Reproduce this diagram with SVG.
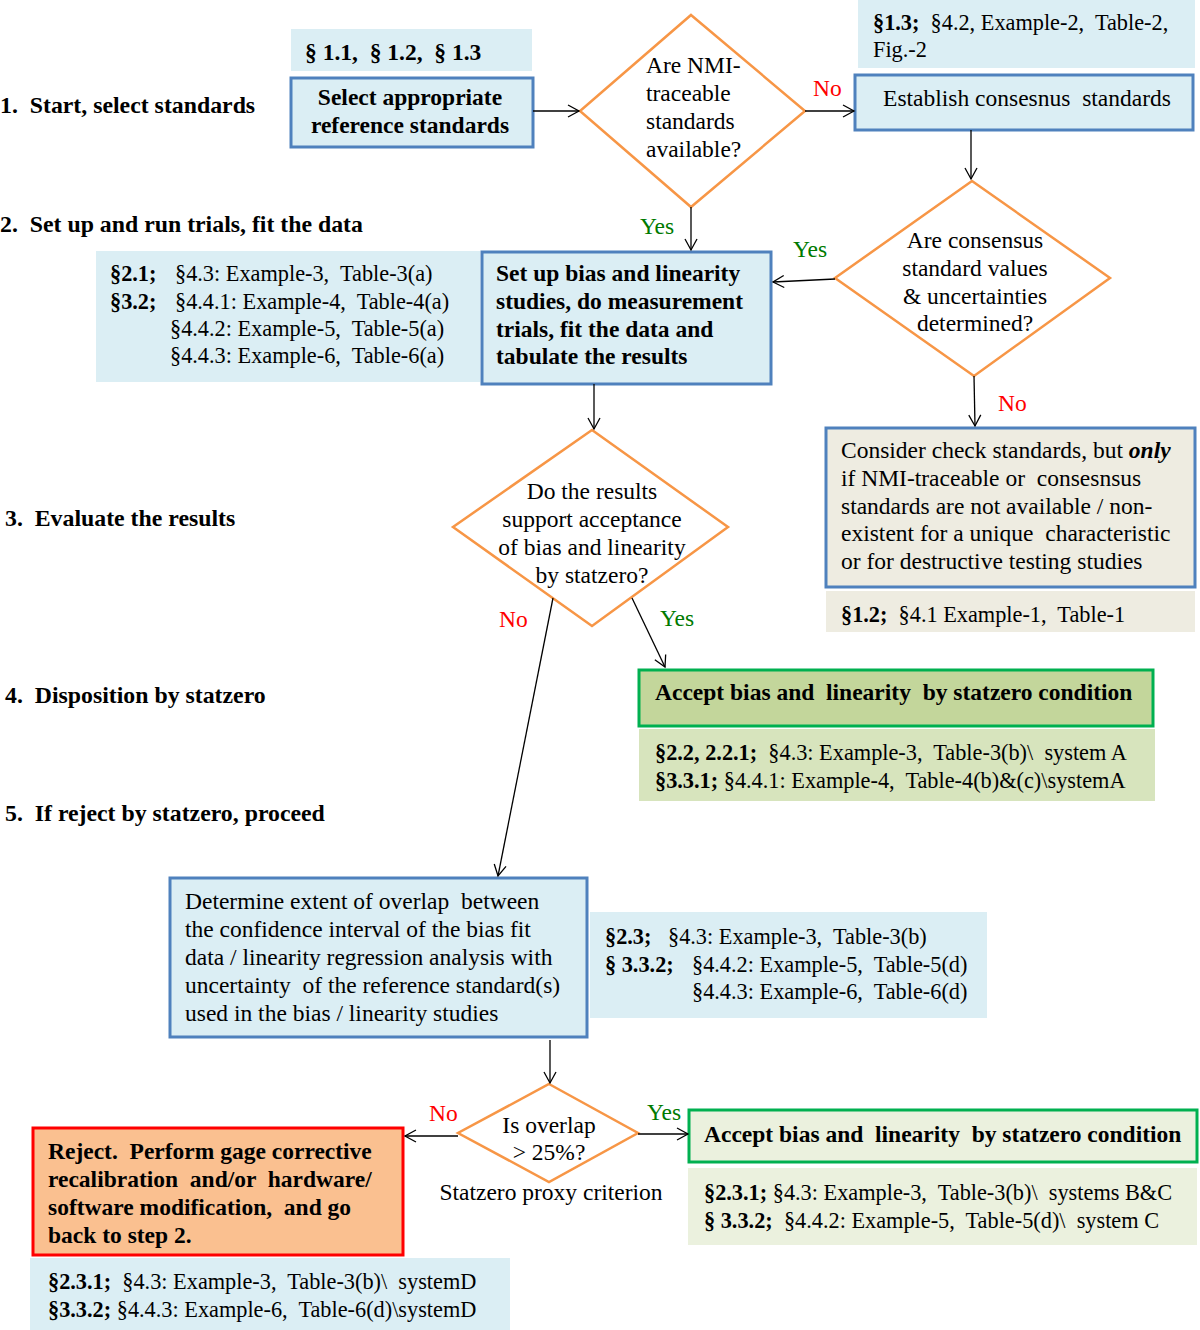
<svg xmlns="http://www.w3.org/2000/svg" width="1200" height="1330" viewBox="0 0 1200 1330" xml:space="preserve">
<defs>
<marker id="ah" markerWidth="14" markerHeight="14" refX="12" refY="7" orient="auto" markerUnits="userSpaceOnUse">
<path d="M1,1 L12,7 L1,13" fill="none" stroke="#000" stroke-width="1.3"/>
</marker>
</defs>
<style>
text{font-family:"Liberation Serif","Times New Roman",serif;fill:#000;white-space:pre}
.t{font-size:23.5px}
.s{font-size:22.3px}
.b{font-weight:bold}
.step{font-size:23.8px;font-weight:bold}
.c{text-anchor:middle}
.no{fill:#ff0000;font-size:23.5px}
.yes{fill:#007a00;font-size:23.5px}
.bluebox{fill:#dbeef4;stroke:#4f81bd;stroke-width:3}
.ref{fill:#dbeef4}
.dia{fill:#fff;stroke:#f79646;stroke-width:2.5}
.con{stroke:#000;stroke-width:1.3;fill:none;marker-end:url(#ah)}
</style>
<rect width="1200" height="1330" fill="#fff"/>
<g id="steps"><text class="step" x="0" y="113">1.  Start, select standards</text><text class="step" x="0" y="232">2.  Set up and run trials, fit the data</text><text class="step" x="5" y="526">3.  Evaluate the results</text><text class="step" x="5" y="703">4.  Disposition by statzero</text><text class="step" x="5" y="821">5.  If reject by statzero, proceed</text></g>
<g id="ref-1"><rect class="ref" x="291" y="29" width="241" height="42"/><text class="t b" x="305" y="60">§ 1.1,  § 1.2,  § 1.3</text></g>
<g id="select"><rect class="bluebox" x="291" y="78" width="242" height="69"/><text class="t b c" x="410" y="105">Select appropriate</text><text class="t b c" x="410" y="133">reference standards</text></g>
<g id="d1"><polygon class="dia" points="691,15 805,111 691,207 580,111"/><text class="t" x="646" y="73">Are NMI-</text><text class="t" x="646" y="101">traceable</text><text class="t" x="646" y="129">standards</text><text class="t" x="646" y="157">available?</text></g>
<g id="ref-13"><rect class="ref" x="858" y="0" width="337" height="68"/><text class="s" x="873" y="30"><tspan class="b">§1.3;</tspan>  §4.2, Example-2,  Table-2,</text><text class="s" x="873" y="57">Fig.-2</text></g>
<g id="establish"><rect class="bluebox" x="855" y="75" width="338" height="55"/><text class="t c" x="1027" y="106">Establish consesnus  standards</text></g>
<g id="d2"><polygon class="dia" points="972,181 1110,278 974,376 835,278"/><text class="t c" x="975" y="248">Are consensus</text><text class="t c" x="975" y="276">standard values</text><text class="t c" x="975" y="304">&amp; uncertainties</text><text class="t c" x="975" y="331">determined?</text></g>
<g id="ref-21"><rect class="ref" x="96" y="251" width="384" height="131"/><text class="s b" x="110" y="281">§2.1;</text><text class="s" x="175" y="281">§4.3: Example-3,  Table-3(a)</text><text class="s b" x="110" y="309">§3.2;</text><text class="s" x="175" y="309">§4.4.1: Example-4,  Table-4(a)</text><text class="s" x="170" y="336">§4.4.2: Example-5,  Table-5(a)</text><text class="s" x="170" y="363">§4.4.3: Example-6,  Table-6(a)</text></g>
<g id="setup"><rect class="bluebox" x="482" y="252" width="289" height="132"/><text class="t b" x="496" y="281">Set up bias and linearity</text><text class="t b" x="496" y="309">studies, do measurement</text><text class="t b" x="496" y="337">trials, fit the data and</text><text class="t b" x="496" y="364">tabulate the results</text></g>
<g id="d3"><polygon class="dia" points="592,430 728,527 592,626 453,527"/><text class="t c" x="592" y="499">Do the results</text><text class="t c" x="592" y="527">support acceptance</text><text class="t c" x="592" y="555">of bias and linearity</text><text class="t c" x="592" y="583">by statzero?</text></g>
<g id="consider"><rect x="826" y="428" width="369" height="159" fill="#eeece1" stroke="#4f81bd" stroke-width="3"/><text class="t" x="841" y="458">Consider check standards, but <tspan font-weight="bold" font-style="italic">only</tspan></text><text class="t" x="841" y="486">if NMI-traceable or  consesnsus</text><text class="t" x="841" y="514">standards are not available / non-</text><text class="t" x="841" y="541">existent for a unique  characteristic</text><text class="t" x="841" y="569">or for destructive testing studies</text></g>
<g id="ref-12"><rect x="826" y="591" width="369" height="41" fill="#eeece1"/><text class="s" x="841" y="622"><tspan class="b">§1.2;</tspan>  §4.1 Example-1,  Table-1</text></g>
<g id="accept1"><rect x="639" y="670" width="514" height="56" fill="#c3d69b" stroke="#00b050" stroke-width="3"/><text class="t b" x="655" y="700">Accept bias and  linearity  by statzero condition</text></g>
<g id="ref-22"><rect x="639" y="729" width="516" height="72" fill="#d7e4bd"/><text class="s" x="655" y="760"><tspan class="b">§2.2, 2.2.1;</tspan>  §4.3: Example-3,  Table-3(b)\  system A</text><text class="s" x="655" y="788"><tspan class="b">§3.3.1;</tspan> §4.4.1: Example-4,  Table-4(b)&amp;(c)\systemA</text></g>
<g id="determine"><rect class="bluebox" x="170" y="878" width="417" height="159"/><text class="t" x="185" y="909">Determine extent of overlap  between</text><text class="t" x="185" y="937">the confidence interval of the bias fit</text><text class="t" x="185" y="965">data / linearity regression analysis with</text><text class="t" x="185" y="993">uncertainty  of the reference standard(s)</text><text class="t" x="185" y="1021">used in the bias / linearity studies</text></g>
<g id="ref-23"><rect class="ref" x="590" y="912" width="397" height="106"/><text class="s b" x="605" y="944">§2.3;</text><text class="s" x="668" y="944">§4.3: Example-3,  Table-3(b)</text><text class="s b" x="605" y="972">§ 3.3.2;</text><text class="s" x="692" y="972">§4.4.2: Example-5,  Table-5(d)</text><text class="s" x="692" y="999">§4.4.3: Example-6,  Table-6(d)</text></g>
<g id="d4"><polygon class="dia" points="549,1084 638,1133 549,1182 458,1133"/><text class="t c" x="549" y="1133">Is overlap</text><text class="t c" x="549" y="1160">&gt; 25%?</text><text class="t c" x="551" y="1200">Statzero proxy criterion</text></g>
<g id="reject"><rect x="33" y="1128" width="370" height="127" fill="#fac090" stroke="#ff0000" stroke-width="3"/><text class="t b" x="48" y="1159">Reject.  Perform gage corrective</text><text class="t b" x="48" y="1187">recalibration  and/or  hardware/</text><text class="t b" x="48" y="1215">software modification,  and go</text><text class="t b" x="48" y="1243">back to step 2.</text></g>
<g id="ref-231a"><rect class="ref" x="30" y="1258" width="480" height="72"/><text class="s" x="48" y="1289"><tspan class="b">§2.3.1;</tspan>  §4.3: Example-3,  Table-3(b)\  systemD</text><text class="s" x="48" y="1317"><tspan class="b">§3.3.2;</tspan> §4.4.3: Example-6,  Table-6(d)\systemD</text></g>
<g id="accept2"><rect x="689" y="1110" width="508" height="52" fill="#ebf1de" stroke="#00b050" stroke-width="3"/><text class="t b" x="704" y="1142">Accept bias and  linearity  by statzero condition</text></g>
<g id="ref-231b"><rect x="688" y="1168" width="509" height="77" fill="#ebf1de"/><text class="s" x="704" y="1200"><tspan class="b">§2.3.1;</tspan> §4.3: Example-3,  Table-3(b)\  systems B&amp;C</text><text class="s" x="704" y="1228"><tspan class="b">§ 3.3.2;</tspan>  §4.4.2: Example-5,  Table-5(d)\  system C</text></g>
<g id="connectors">
<line class="con" x1="533" y1="111" x2="579" y2="111"/>
<line class="con" x1="805" y1="111" x2="854" y2="111"/>
<line class="con" x1="971" y1="130" x2="971" y2="179"/>
<line class="con" x1="691" y1="207" x2="691" y2="250"/>
<line class="con" x1="835" y1="279" x2="773" y2="282"/>
<line class="con" x1="594" y1="384" x2="594" y2="429"/>
<line class="con" x1="974" y1="376" x2="975" y2="426"/>
<line class="con" x1="553" y1="598" x2="498" y2="876"/>
<line class="con" x1="632" y1="598" x2="665" y2="667"/>
<line class="con" x1="550" y1="1040" x2="550" y2="1083"/>
<line class="con" x1="458" y1="1136" x2="405" y2="1136"/>
<line class="con" x1="638" y1="1134" x2="688" y2="1134"/>
<text class="no" x="813" y="96">No</text>
<text class="yes" x="640" y="234">Yes</text>
<text class="yes" x="793" y="257">Yes</text>
<text class="no" x="998" y="411">No</text>
<text class="no" x="499" y="627">No</text>
<text class="yes" x="660" y="626">Yes</text>
<text class="no" x="429" y="1121">No</text>
<text class="yes" x="647" y="1120">Yes</text>
</g>
</svg>
